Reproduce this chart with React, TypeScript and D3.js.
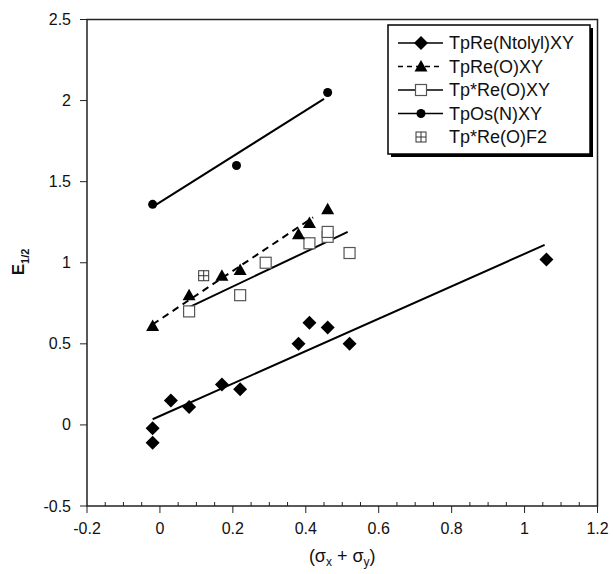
import * as d3 from "d3";

const W = 613;
const H = 574;
const MARGIN = { top: 19.5, right: 15.5, bottom: 68, left: 87 };

const xTicks = [-0.2, 0, 0.2, 0.4, 0.6, 0.8, 1, 1.2];
const yTicks = [-0.5, 0, 0.5, 1, 1.5, 2, 2.5];

// TpRe(Ntolyl)XY
const ntolylX = [-0.02, -0.02, 0.03, 0.08, 0.17, 0.22, 0.38, 0.41, 0.46, 0.52, 1.06];
const ntolylY = [-0.02, -0.11, 0.15, 0.11, 0.25, 0.22, 0.5, 0.63, 0.6, 0.5, 1.02];
const ntolylFit = [[-0.02, 0.035], [1.055, 1.11]];

// TpRe(O)XY
const oxoX = [-0.02, 0.08, 0.17, 0.22, 0.38, 0.41, 0.46];
const oxoY = [0.61, 0.8, 0.92, 0.955, 1.175, 1.245, 1.33];
const oxoFit = [[-0.02, 0.62], [0.42, 1.28]];

// Tp*Re(O)XY
const starX = [0.08, 0.22, 0.29, 0.41, 0.46, 0.46, 0.52];
const starY = [0.7, 0.8, 1.0, 1.12, 1.16, 1.19, 1.06];
const starFit = [[0.075, 0.72], [0.515, 1.19]];

// TpOs(N)XY
const osX = [-0.02, 0.21, 0.46];
const osY = [1.36, 1.6, 2.05];
const osFit = [[-0.02, 1.345], [0.45, 2.01]];

// Tp*Re(O)F2
const f2X = [0.12];
const f2Y = [0.92];

const legendNames = ["TpRe(Ntolyl)XY", "TpRe(O)XY", "Tp*Re(O)XY", "TpOs(N)XY", "Tp*Re(O)F2"];
const legendLine = ["solid", "dashed", "solid", "solid", "none"];
const legendMarker = ["diamond", "triangle", "square", "circle", "cross"];

const FONT = "Liberation Sans, Arial, sans-serif";

function Marker({ kind, x, y }: { kind: string; x: number; y: number }) {
  if (kind === "diamond") {
    const s = 7;
    return <path d={`M${x},${y - s}L${x + s},${y}L${x},${y + s}L${x - s},${y}Z`} fill="#000" />;
  }
  if (kind === "triangle") {
    return <path d={`M${x},${y - 6.5}L${x + 6.5},${y + 5}L${x - 6.5},${y + 5}Z`} fill="#000" />;
  }
  if (kind === "square") {
    return <rect x={x - 5.5} y={y - 5.5} width={11} height={11} fill="#fff" stroke="#555" strokeWidth={1.2} />;
  }
  if (kind === "circle") {
    return <circle cx={x} cy={y} r={4.5} fill="#000" />;
  }
  return (
    <g stroke="#333" strokeWidth={1} fill="#fff">
      <rect x={x - 5} y={y - 5} width={10} height={10} />
      <line x1={x} x2={x} y1={y - 5} y2={y + 5} />
      <line x1={x - 5} x2={x + 5} y1={y} y2={y} />
    </g>
  );
}

export default function App() {
  const x = d3.scaleLinear().domain([-0.2, 1.2]).range([MARGIN.left, W - MARGIN.right]);
  const y = d3.scaleLinear().domain([-0.5, 2.5]).range([H - MARGIN.bottom, MARGIN.top]);
  const line = d3.line<number[]>().x((d) => x(d[0])).y((d) => y(d[1]));

  const minorX = d3.range(-0.2, 1.2001, 0.05).filter((v) => Math.abs(Math.round(v * 5) - v * 5) > 1e-6);

  const series = [
    { xs: ntolylX, ys: ntolylY, fit: ntolylFit, kind: "diamond", dash: undefined },
    { xs: starX, ys: starY, fit: starFit, kind: "square", dash: undefined },
    { xs: oxoX, ys: oxoY, fit: oxoFit, kind: "triangle", dash: "7,5" },
    { xs: osX, ys: osY, fit: osFit, kind: "circle", dash: undefined },
  ];

  const x0 = MARGIN.left;
  const x1 = W - MARGIN.right;
  const y0 = H - MARGIN.bottom;
  const y1 = MARGIN.top;

  const lgX = 388;
  const lgY = 25;
  const lgW = 202;
  const lgH = 129;

  return (
    <svg width={W} height={H} style={{ position: "absolute", left: 0, top: 0, background: "#fff" }} fontFamily={FONT}>
      {/* frame */}
      <rect x={x0} y={y1} width={x1 - x0} height={y0 - y1} fill="none" stroke="#222" strokeWidth={1.5} />

      {/* x ticks */}
      {xTicks.map((t) => (
        <g key={`xt${t}`}>
          <line x1={x(t)} x2={x(t)} y1={y0} y2={y0 + 7} stroke="#222" strokeWidth={1} />
          <text x={x(t)} y={y0 + 28} textAnchor="middle" fontSize={16} fill="#111">
            {t}
          </text>
        </g>
      ))}
      {minorX.map((t) => (
        <line key={`xm${t}`} x1={x(t)} x2={x(t)} y1={y0} y2={y0 - 4} stroke="#222" strokeWidth={1} />
      ))}

      {/* y ticks */}
      {yTicks.map((t) => (
        <g key={`yt${t}`}>
          <line x1={x0 - 7} x2={x0} y1={y(t)} y2={y(t)} stroke="#222" strokeWidth={1} />
          <text x={x0 - 16} y={y(t)} textAnchor="end" dominantBaseline="central" fontSize={16} fill="#111">
            {t}
          </text>
        </g>
      ))}

      {/* axis titles */}
      <text x={(x0 + x1) / 2} y={562} textAnchor="middle" fontSize={18} fill="#111">
        (σ<tspan fontSize={12} dy={4}>x</tspan>
        <tspan dy={-4}> + σ</tspan>
        <tspan fontSize={12} dy={4}>y</tspan>
        <tspan dy={-4}>)</tspan>
      </text>
      <text transform="translate(24,262) rotate(-90)" textAnchor="middle" fontSize={17} fontWeight="bold" fill="#111">
        E<tspan fontSize={11} dy={5}>1/2</tspan>
      </text>

      {/* fit lines */}
      {series.map((s, i) => (
        <path key={`fit${i}`} d={line(s.fit) ?? ""} fill="none" stroke="#000" strokeWidth={2} strokeDasharray={s.dash} />
      ))}

      {/* points */}
      {series.map((s, i) =>
        s.xs.map((v, j) => <Marker key={`p${i}-${j}`} kind={s.kind} x={x(v)} y={y(s.ys[j])} />)
      )}
      {f2X.map((v, j) => (
        <Marker key={`f2${j}`} kind="cross" x={x(v)} y={y(f2Y[j])} />
      ))}

      {/* legend */}
      <rect x={lgX + 3} y={lgY + 3} width={lgW} height={lgH} fill="#000" />
      <rect x={lgX} y={lgY} width={lgW} height={lgH} fill="#fff" stroke="#000" strokeWidth={1.5} />
      {legendNames.map((name, i) => {
        const ly = 43 + i * 23.5;
        return (
          <g key={name}>
            {legendLine[i] !== "none" && (
              <line
                x1={398}
                x2={443}
                y1={ly}
                y2={ly}
                stroke="#000"
                strokeWidth={1.5}
                strokeDasharray={legendLine[i] === "dashed" ? "5,4" : undefined}
              />
            )}
            <Marker kind={legendMarker[i]} x={421} y={ly} />
            <text x={449} y={ly} dominantBaseline="central" fontSize={18} fill="#111">
              {name}
            </text>
          </g>
        );
      })}
    </svg>
  );
}
